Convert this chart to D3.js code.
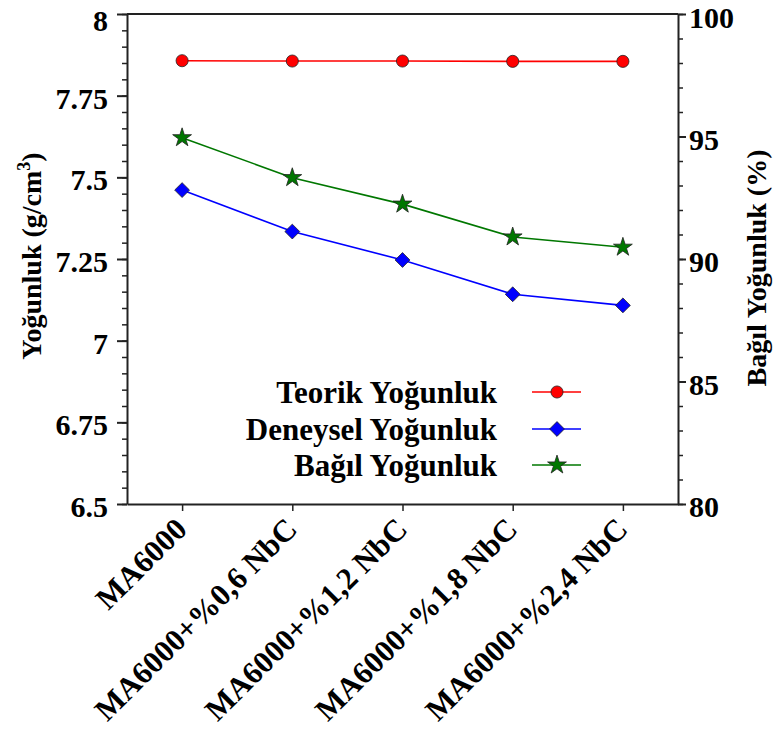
<!DOCTYPE html>
<html>
<head>
<meta charset="utf-8">
<script src="https://cdn.jsdelivr.net/npm/d3@7"></script>
</head>
<body style="margin:0">
<div id="chart"></div>
<script>
const WIDTH = 773;
const HEIGHT = 742;

// data
const samples = ["MA6000", "MA6000+%0,6 NbC", "MA6000+%1,2 NbC", "MA6000+%1,8 NbC", "MA6000+%2,4 NbC"];
const teorik = [7.857, 7.856, 7.856, 7.855, 7.855];
const deneysel = [7.461, 7.334, 7.247, 7.142, 7.108];
const bagil = [94.95, 93.32, 92.24, 90.90, 90.48];
const leftTicks = [6.5, 6.75, 7, 7.25, 7.5, 7.75, 8];
const rightTicks = [80, 85, 90, 95, 100];

const margin = {top: 14, right: 95, bottom: 238, left: 127};
const plotW = WIDTH - margin.left - margin.right;
const plotH = HEIGHT - margin.top - margin.bottom;

const AXIS_COLOR = "#222";
const TICK_FONT = 30;
const LABEL_FONT = 31;
const TITLE_FONT = 28;
const FAMILY = "Liberation Serif";

let svg = d3.select("#chart")
    .append("svg")
    .attr("width", WIDTH)
    .attr("height", HEIGHT)
    .attr("font-family", FAMILY)
    .attr("font-weight", "bold");

// every label gets the serif font directly
function serif(sel, size) {
    return sel.attr("font-family", FAMILY)
        .attr("font-weight", "bold")
        .attr("font-size", size)
        .attr("fill", "#000");
}

let g = svg.append("g")
    .attr("transform", `translate(${margin.left}, ${margin.top})`);

let x = d3.scalePoint()
    .domain(samples)
    .range([0, plotW])
    .padding(0.5);

let yLeft = d3.scaleLinear().domain([6.5, 8]).range([plotH, 0]);
let yRight = d3.scaleLinear().domain([80, 100]).range([plotH, 0]);

// frame: top line
g.append("line")
    .attr("x1", 0).attr("x2", plotW)
    .attr("y1", 0).attr("y2", 0)
    .attr("stroke", AXIS_COLOR)
    .attr("stroke-width", 2);

// left axis minor ticks
g.append("g")
    .call(d3.axisLeft(yLeft).tickValues(d3.range(6.5, 8.001, 0.05)).tickSize(5).tickFormat(""))
    .call(a => a.select(".domain").remove())
    .selectAll("line").attr("stroke", AXIS_COLOR).attr("stroke-width", 1.5);

// left axis major
let leftAxis = g.append("g")
    .call(d3.axisLeft(yLeft).tickValues(leftTicks).tickSize(10).tickSizeOuter(0)
        .tickFormat(d => String(d)))
    .attr("font-family", FAMILY);
leftAxis.select(".domain").attr("stroke", AXIS_COLOR).attr("stroke-width", 2);
leftAxis.selectAll("line").attr("stroke", AXIS_COLOR).attr("stroke-width", 2);
serif(leftAxis.selectAll("text"), TICK_FONT)
    .attr("x", -19)
    .attr("y", d => d === 8 ? 4 : 0)
    .attr("dy", "0.42em");

// right axis minor ticks
g.append("g")
    .attr("transform", `translate(${plotW}, 0)`)
    .call(d3.axisRight(yRight).tickValues(d3.range(80, 100.01, 1)).tickSize(5).tickFormat(""))
    .call(a => a.select(".domain").remove())
    .selectAll("line").attr("stroke", AXIS_COLOR).attr("stroke-width", 1.5);

let rightAxis = g.append("g")
    .attr("transform", `translate(${plotW}, 0)`)
    .call(d3.axisRight(yRight).tickValues(rightTicks).tickSize(8).tickSizeOuter(0))
    .attr("font-family", FAMILY);
rightAxis.select(".domain").attr("stroke", AXIS_COLOR).attr("stroke-width", 2);
rightAxis.selectAll("line").attr("stroke", AXIS_COLOR).attr("stroke-width", 2);
serif(rightAxis.selectAll("text"), TICK_FONT)
    .attr("x", 11)
    .attr("y", d => d === 100 ? 1 : 0)
    .attr("dy", "0.42em");

// bottom axis, labels turned 45 degrees
let bottomAxis = g.append("g")
    .attr("transform", `translate(0, ${plotH})`)
    .call(d3.axisBottom(x).tickSize(7).tickSizeOuter(0))
    .attr("font-family", FAMILY);
bottomAxis.select(".domain").attr("stroke", AXIS_COLOR).attr("stroke-width", 2);
bottomAxis.selectAll("line").attr("stroke", AXIS_COLOR).attr("stroke-width", 1.5);
serif(bottomAxis.selectAll("text"), LABEL_FONT)
    .attr("text-anchor", "end")
    .attr("x", 0)
    .attr("y", 0)
    .attr("dy", 0)
    .attr("transform", "translate(6, 27) rotate(-45)");

// axis titles
let leftTitle = serif(svg.append("text"), TITLE_FONT)
    .attr("transform", "translate(41, 256) rotate(-90)")
    .attr("text-anchor", "middle");
leftTitle.append("tspan").text("Yoğunluk (g/cm");
leftTitle.append("tspan").text("3").attr("dy", -11).attr("font-size", 18);
leftTitle.append("tspan").text(")").attr("dy", 11);

serif(svg.append("text"), TITLE_FONT)
    .attr("transform", "translate(766, 268) rotate(-90)")
    .attr("text-anchor", "middle")
    .text("Bağıl Yoğunluk (%)");

// series
const diamond = {draw: (ctx, size) => {
    const r = Math.sqrt(size) / 2 * Math.SQRT2;
    ctx.moveTo(0, -r); ctx.lineTo(r, 0); ctx.lineTo(0, r); ctx.lineTo(-r, 0); ctx.closePath();
}};
const series = [
    {name: "Teorik Yoğunluk", values: teorik, scale: yLeft, color: "#ff0000", shape: d3.symbolCircle, size: 115},
    {name: "Deneysel Yoğunluk", values: deneysel, scale: yLeft, color: "#0000ff", shape: diamond, size: 110},
    {name: "Bağıl Yoğunluk", values: bagil, scale: yRight, color: "#007700", shape: d3.symbolStar, size: 110}
];

series.forEach(s => {
    let pts = samples.map((c, i) => ({c: c, v: s.values[i]}));
    g.append("path")
        .datum(pts)
        .attr("fill", "none")
        .attr("stroke", s.color)
        .attr("stroke-width", 1.6)
        .attr("d", d3.line().x(d => x(d.c)).y(d => s.scale(d.v)));

    g.selectAll(null)
        .data(pts)
        .enter()
        .append("path")
        .attr("transform", d => `translate(${x(d.c)}, ${s.scale(d.v)})`)
        .attr("d", d3.symbol().type(s.shape).size(s.size))
        .attr("fill", s.color)
        .attr("stroke", "#222")
        .attr("stroke-width", 0.8);
});

// legend
let legend = svg.append("g");
const legendY = [392, 429, 465];
series.forEach((s, i) => {
    let row = legend.append("g").attr("transform", `translate(0, ${legendY[i]})`);
    serif(row.append("text"), LABEL_FONT)
        .attr("x", 497)
        .attr("y", 0)
        .attr("dy", "0.35em")
        .attr("text-anchor", "end")
        .text(s.name);
    row.append("line")
        .attr("x1", 532).attr("x2", 581)
        .attr("y1", 0).attr("y2", 0)
        .attr("stroke", s.color)
        .attr("stroke-width", 1.6);
    row.append("path")
        .attr("transform", "translate(557, 0)")
        .attr("d", d3.symbol().type(s.shape).size(s.size))
        .attr("fill", s.color)
        .attr("stroke", "#222")
        .attr("stroke-width", 0.8);
});
</script>
</body>
</html>
